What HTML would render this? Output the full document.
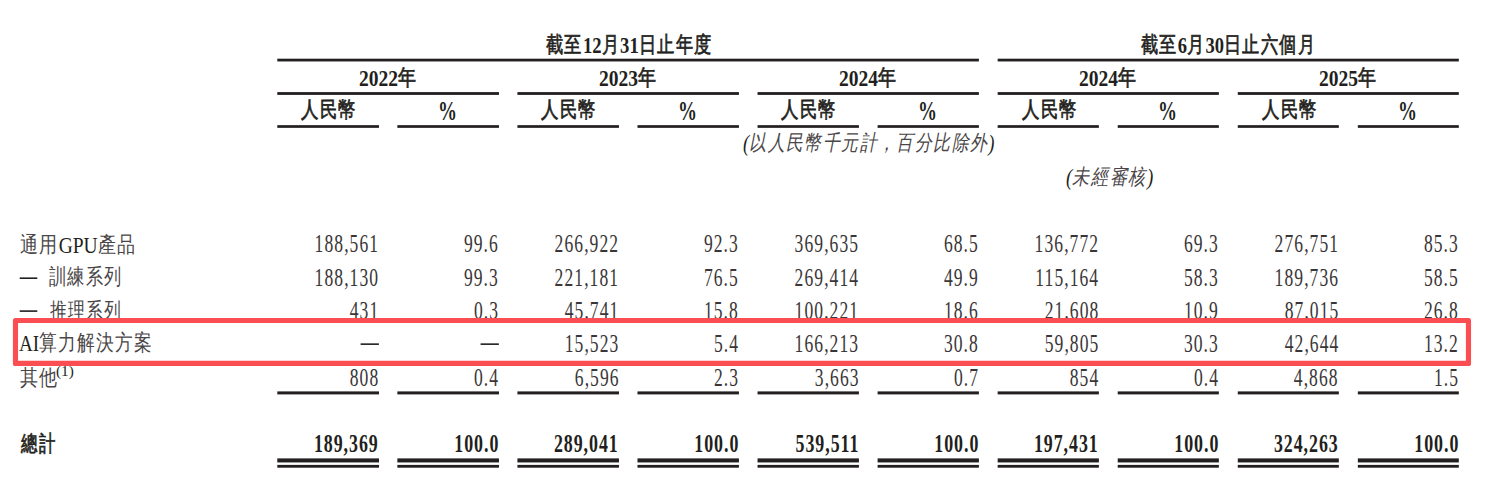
<!DOCTYPE html>
<html lang="zh-Hant"><head><meta charset="utf-8"><title>table</title>
<style>
html,body{margin:0;padding:0;background:#fff;}
body{width:1500px;height:502px;position:relative;overflow:hidden;font-family:"Liberation Serif",serif;color:#231f20;}
.t{position:absolute;white-space:nowrap;left:0;top:0;}
.c{color:#4a4647;letter-spacing:1.6px;}
svg{position:absolute;left:0;top:0;}
</style></head><body>
<svg width="1500" height="502" viewBox="0 0 1500 502"><rect x="277.30" y="58.70" width="701.60" height="2.75" fill="#231f20"/><rect x="997.66" y="58.70" width="461.16" height="2.75" fill="#231f20"/><rect x="277.30" y="92.10" width="221.68" height="2.80" fill="#231f20"/><rect x="517.42" y="92.10" width="221.52" height="2.80" fill="#231f20"/><rect x="757.54" y="92.10" width="221.36" height="2.80" fill="#231f20"/><rect x="997.66" y="92.10" width="221.20" height="2.80" fill="#231f20"/><rect x="1237.78" y="92.10" width="221.04" height="2.80" fill="#231f20"/><rect x="277.30" y="125.15" width="101.70" height="2.70" fill="#231f20"/><rect x="277.30" y="391.40" width="101.70" height="3.00" fill="#231f20"/><rect x="277.30" y="458.40" width="101.70" height="4.05" fill="#231f20"/><rect x="277.30" y="464.90" width="101.70" height="2.80" fill="#231f20"/><rect x="397.36" y="125.15" width="101.62" height="2.70" fill="#231f20"/><rect x="397.36" y="391.40" width="101.62" height="3.00" fill="#231f20"/><rect x="397.36" y="458.40" width="101.62" height="4.05" fill="#231f20"/><rect x="397.36" y="464.90" width="101.62" height="2.80" fill="#231f20"/><rect x="517.42" y="125.15" width="101.54" height="2.70" fill="#231f20"/><rect x="517.42" y="391.40" width="101.54" height="3.00" fill="#231f20"/><rect x="517.42" y="458.40" width="101.54" height="4.05" fill="#231f20"/><rect x="517.42" y="464.90" width="101.54" height="2.80" fill="#231f20"/><rect x="637.48" y="125.15" width="101.46" height="2.70" fill="#231f20"/><rect x="637.48" y="391.40" width="101.46" height="3.00" fill="#231f20"/><rect x="637.48" y="458.40" width="101.46" height="4.05" fill="#231f20"/><rect x="637.48" y="464.90" width="101.46" height="2.80" fill="#231f20"/><rect x="757.54" y="125.15" width="101.38" height="2.70" fill="#231f20"/><rect x="757.54" y="391.40" width="101.38" height="3.00" fill="#231f20"/><rect x="757.54" y="458.40" width="101.38" height="4.05" fill="#231f20"/><rect x="757.54" y="464.90" width="101.38" height="2.80" fill="#231f20"/><rect x="877.60" y="125.15" width="101.30" height="2.70" fill="#231f20"/><rect x="877.60" y="391.40" width="101.30" height="3.00" fill="#231f20"/><rect x="877.60" y="458.40" width="101.30" height="4.05" fill="#231f20"/><rect x="877.60" y="464.90" width="101.30" height="2.80" fill="#231f20"/><rect x="997.66" y="125.15" width="101.22" height="2.70" fill="#231f20"/><rect x="997.66" y="391.40" width="101.22" height="3.00" fill="#231f20"/><rect x="997.66" y="458.40" width="101.22" height="4.05" fill="#231f20"/><rect x="997.66" y="464.90" width="101.22" height="2.80" fill="#231f20"/><rect x="1117.72" y="125.15" width="101.14" height="2.70" fill="#231f20"/><rect x="1117.72" y="391.40" width="101.14" height="3.00" fill="#231f20"/><rect x="1117.72" y="458.40" width="101.14" height="4.05" fill="#231f20"/><rect x="1117.72" y="464.90" width="101.14" height="2.80" fill="#231f20"/><rect x="1237.78" y="125.15" width="101.06" height="2.70" fill="#231f20"/><rect x="1237.78" y="391.40" width="101.06" height="3.00" fill="#231f20"/><rect x="1237.78" y="458.40" width="101.06" height="4.05" fill="#231f20"/><rect x="1237.78" y="464.90" width="101.06" height="2.80" fill="#231f20"/><rect x="1357.84" y="125.15" width="100.98" height="2.70" fill="#231f20"/><rect x="1357.84" y="391.40" width="100.98" height="3.00" fill="#231f20"/><rect x="1357.84" y="458.40" width="100.98" height="4.05" fill="#231f20"/><rect x="1357.84" y="464.90" width="100.98" height="2.80" fill="#231f20"/><rect x="19.70" y="277.40" width="17.60" height="1.60" fill="#231f20"/><rect x="19.70" y="310.30" width="17.60" height="1.60" fill="#231f20"/><rect x="360.60" y="343.35" width="18.30" height="1.60" fill="#231f20"/><rect x="480.58" y="343.35" width="18.30" height="1.60" fill="#231f20"/></svg>
<div class="t" style="font-size:24.5px;line-height:24.5px;left:auto;right:1122.30px;top:231.68px;transform:scaleX(0.716);transform-origin:100% 0;letter-spacing:1.5px;margin-right:-1.5px;color:#3a3637;">188,561</div>
<div class="t" style="font-size:24.5px;line-height:24.5px;left:auto;right:1002.32px;top:231.68px;transform:scaleX(0.716);transform-origin:100% 0;letter-spacing:1.5px;margin-right:-1.5px;color:#3a3637;">99.6</div>
<div class="t" style="font-size:24.5px;line-height:24.5px;left:auto;right:882.34px;top:231.68px;transform:scaleX(0.716);transform-origin:100% 0;letter-spacing:1.5px;margin-right:-1.5px;color:#3a3637;">266,922</div>
<div class="t" style="font-size:24.5px;line-height:24.5px;left:auto;right:762.36px;top:231.68px;transform:scaleX(0.716);transform-origin:100% 0;letter-spacing:1.5px;margin-right:-1.5px;color:#3a3637;">92.3</div>
<div class="t" style="font-size:24.5px;line-height:24.5px;left:auto;right:642.38px;top:231.68px;transform:scaleX(0.716);transform-origin:100% 0;letter-spacing:1.5px;margin-right:-1.5px;color:#3a3637;">369,635</div>
<div class="t" style="font-size:24.5px;line-height:24.5px;left:auto;right:522.40px;top:231.68px;transform:scaleX(0.716);transform-origin:100% 0;letter-spacing:1.5px;margin-right:-1.5px;color:#3a3637;">68.5</div>
<div class="t" style="font-size:24.5px;line-height:24.5px;left:auto;right:402.42px;top:231.68px;transform:scaleX(0.716);transform-origin:100% 0;letter-spacing:1.5px;margin-right:-1.5px;color:#3a3637;">136,772</div>
<div class="t" style="font-size:24.5px;line-height:24.5px;left:auto;right:282.44px;top:231.68px;transform:scaleX(0.716);transform-origin:100% 0;letter-spacing:1.5px;margin-right:-1.5px;color:#3a3637;">69.3</div>
<div class="t" style="font-size:24.5px;line-height:24.5px;left:auto;right:162.46px;top:231.68px;transform:scaleX(0.716);transform-origin:100% 0;letter-spacing:1.5px;margin-right:-1.5px;color:#3a3637;">276,751</div>
<div class="t" style="font-size:24.5px;line-height:24.5px;left:auto;right:42.48px;top:231.68px;transform:scaleX(0.716);transform-origin:100% 0;letter-spacing:1.5px;margin-right:-1.5px;color:#3a3637;">85.3</div>
<div class="t" style="font-size:24.5px;line-height:24.5px;left:auto;right:1122.30px;top:265.68px;transform:scaleX(0.716);transform-origin:100% 0;letter-spacing:1.5px;margin-right:-1.5px;color:#3a3637;">188,130</div>
<div class="t" style="font-size:24.5px;line-height:24.5px;left:auto;right:1002.32px;top:265.68px;transform:scaleX(0.716);transform-origin:100% 0;letter-spacing:1.5px;margin-right:-1.5px;color:#3a3637;">99.3</div>
<div class="t" style="font-size:24.5px;line-height:24.5px;left:auto;right:882.34px;top:265.68px;transform:scaleX(0.716);transform-origin:100% 0;letter-spacing:1.5px;margin-right:-1.5px;color:#3a3637;">221,181</div>
<div class="t" style="font-size:24.5px;line-height:24.5px;left:auto;right:762.36px;top:265.68px;transform:scaleX(0.716);transform-origin:100% 0;letter-spacing:1.5px;margin-right:-1.5px;color:#3a3637;">76.5</div>
<div class="t" style="font-size:24.5px;line-height:24.5px;left:auto;right:642.38px;top:265.68px;transform:scaleX(0.716);transform-origin:100% 0;letter-spacing:1.5px;margin-right:-1.5px;color:#3a3637;">269,414</div>
<div class="t" style="font-size:24.5px;line-height:24.5px;left:auto;right:522.40px;top:265.68px;transform:scaleX(0.716);transform-origin:100% 0;letter-spacing:1.5px;margin-right:-1.5px;color:#3a3637;">49.9</div>
<div class="t" style="font-size:24.5px;line-height:24.5px;left:auto;right:402.42px;top:265.68px;transform:scaleX(0.716);transform-origin:100% 0;letter-spacing:1.5px;margin-right:-1.5px;color:#3a3637;">115,164</div>
<div class="t" style="font-size:24.5px;line-height:24.5px;left:auto;right:282.44px;top:265.68px;transform:scaleX(0.716);transform-origin:100% 0;letter-spacing:1.5px;margin-right:-1.5px;color:#3a3637;">58.3</div>
<div class="t" style="font-size:24.5px;line-height:24.5px;left:auto;right:162.46px;top:265.68px;transform:scaleX(0.716);transform-origin:100% 0;letter-spacing:1.5px;margin-right:-1.5px;color:#3a3637;">189,736</div>
<div class="t" style="font-size:24.5px;line-height:24.5px;left:auto;right:42.48px;top:265.68px;transform:scaleX(0.716);transform-origin:100% 0;letter-spacing:1.5px;margin-right:-1.5px;color:#3a3637;">58.5</div>
<div class="t" style="font-size:24.5px;line-height:24.5px;left:auto;right:1122.30px;top:298.68px;transform:scaleX(0.716);transform-origin:100% 0;letter-spacing:1.5px;margin-right:-1.5px;color:#3a3637;">431</div>
<div class="t" style="font-size:24.5px;line-height:24.5px;left:auto;right:1002.32px;top:298.68px;transform:scaleX(0.716);transform-origin:100% 0;letter-spacing:1.5px;margin-right:-1.5px;color:#3a3637;">0.3</div>
<div class="t" style="font-size:24.5px;line-height:24.5px;left:auto;right:882.34px;top:298.68px;transform:scaleX(0.716);transform-origin:100% 0;letter-spacing:1.5px;margin-right:-1.5px;color:#3a3637;">45,741</div>
<div class="t" style="font-size:24.5px;line-height:24.5px;left:auto;right:762.36px;top:298.68px;transform:scaleX(0.716);transform-origin:100% 0;letter-spacing:1.5px;margin-right:-1.5px;color:#3a3637;">15.8</div>
<div class="t" style="font-size:24.5px;line-height:24.5px;left:auto;right:642.38px;top:298.68px;transform:scaleX(0.716);transform-origin:100% 0;letter-spacing:1.5px;margin-right:-1.5px;color:#3a3637;">100,221</div>
<div class="t" style="font-size:24.5px;line-height:24.5px;left:auto;right:522.40px;top:298.68px;transform:scaleX(0.716);transform-origin:100% 0;letter-spacing:1.5px;margin-right:-1.5px;color:#3a3637;">18.6</div>
<div class="t" style="font-size:24.5px;line-height:24.5px;left:auto;right:402.42px;top:298.68px;transform:scaleX(0.716);transform-origin:100% 0;letter-spacing:1.5px;margin-right:-1.5px;color:#3a3637;">21,608</div>
<div class="t" style="font-size:24.5px;line-height:24.5px;left:auto;right:282.44px;top:298.68px;transform:scaleX(0.716);transform-origin:100% 0;letter-spacing:1.5px;margin-right:-1.5px;color:#3a3637;">10.9</div>
<div class="t" style="font-size:24.5px;line-height:24.5px;left:auto;right:162.46px;top:298.68px;transform:scaleX(0.716);transform-origin:100% 0;letter-spacing:1.5px;margin-right:-1.5px;color:#3a3637;">87,015</div>
<div class="t" style="font-size:24.5px;line-height:24.5px;left:auto;right:42.48px;top:298.68px;transform:scaleX(0.716);transform-origin:100% 0;letter-spacing:1.5px;margin-right:-1.5px;color:#3a3637;">26.8</div>
<div class="t" style="font-size:24.5px;line-height:24.5px;left:auto;right:882.34px;top:331.68px;transform:scaleX(0.716);transform-origin:100% 0;letter-spacing:1.5px;margin-right:-1.5px;color:#3a3637;">15,523</div>
<div class="t" style="font-size:24.5px;line-height:24.5px;left:auto;right:762.36px;top:331.68px;transform:scaleX(0.716);transform-origin:100% 0;letter-spacing:1.5px;margin-right:-1.5px;color:#3a3637;">5.4</div>
<div class="t" style="font-size:24.5px;line-height:24.5px;left:auto;right:642.38px;top:331.68px;transform:scaleX(0.716);transform-origin:100% 0;letter-spacing:1.5px;margin-right:-1.5px;color:#3a3637;">166,213</div>
<div class="t" style="font-size:24.5px;line-height:24.5px;left:auto;right:522.40px;top:331.68px;transform:scaleX(0.716);transform-origin:100% 0;letter-spacing:1.5px;margin-right:-1.5px;color:#3a3637;">30.8</div>
<div class="t" style="font-size:24.5px;line-height:24.5px;left:auto;right:402.42px;top:331.68px;transform:scaleX(0.716);transform-origin:100% 0;letter-spacing:1.5px;margin-right:-1.5px;color:#3a3637;">59,805</div>
<div class="t" style="font-size:24.5px;line-height:24.5px;left:auto;right:282.44px;top:331.68px;transform:scaleX(0.716);transform-origin:100% 0;letter-spacing:1.5px;margin-right:-1.5px;color:#3a3637;">30.3</div>
<div class="t" style="font-size:24.5px;line-height:24.5px;left:auto;right:162.46px;top:331.68px;transform:scaleX(0.716);transform-origin:100% 0;letter-spacing:1.5px;margin-right:-1.5px;color:#3a3637;">42,644</div>
<div class="t" style="font-size:24.5px;line-height:24.5px;left:auto;right:42.48px;top:331.68px;transform:scaleX(0.716);transform-origin:100% 0;letter-spacing:1.5px;margin-right:-1.5px;color:#3a3637;">13.2</div>
<div class="t" style="font-size:24.5px;line-height:24.5px;left:auto;right:1122.30px;top:365.68px;transform:scaleX(0.716);transform-origin:100% 0;letter-spacing:1.5px;margin-right:-1.5px;color:#3a3637;">808</div>
<div class="t" style="font-size:24.5px;line-height:24.5px;left:auto;right:1002.32px;top:365.68px;transform:scaleX(0.716);transform-origin:100% 0;letter-spacing:1.5px;margin-right:-1.5px;color:#3a3637;">0.4</div>
<div class="t" style="font-size:24.5px;line-height:24.5px;left:auto;right:882.34px;top:365.68px;transform:scaleX(0.716);transform-origin:100% 0;letter-spacing:1.5px;margin-right:-1.5px;color:#3a3637;">6,596</div>
<div class="t" style="font-size:24.5px;line-height:24.5px;left:auto;right:762.36px;top:365.68px;transform:scaleX(0.716);transform-origin:100% 0;letter-spacing:1.5px;margin-right:-1.5px;color:#3a3637;">2.3</div>
<div class="t" style="font-size:24.5px;line-height:24.5px;left:auto;right:642.38px;top:365.68px;transform:scaleX(0.716);transform-origin:100% 0;letter-spacing:1.5px;margin-right:-1.5px;color:#3a3637;">3,663</div>
<div class="t" style="font-size:24.5px;line-height:24.5px;left:auto;right:522.40px;top:365.68px;transform:scaleX(0.716);transform-origin:100% 0;letter-spacing:1.5px;margin-right:-1.5px;color:#3a3637;">0.7</div>
<div class="t" style="font-size:24.5px;line-height:24.5px;left:auto;right:402.42px;top:365.68px;transform:scaleX(0.716);transform-origin:100% 0;letter-spacing:1.5px;margin-right:-1.5px;color:#3a3637;">854</div>
<div class="t" style="font-size:24.5px;line-height:24.5px;left:auto;right:282.44px;top:365.68px;transform:scaleX(0.716);transform-origin:100% 0;letter-spacing:1.5px;margin-right:-1.5px;color:#3a3637;">0.4</div>
<div class="t" style="font-size:24.5px;line-height:24.5px;left:auto;right:162.46px;top:365.68px;transform:scaleX(0.716);transform-origin:100% 0;letter-spacing:1.5px;margin-right:-1.5px;color:#3a3637;">4,868</div>
<div class="t" style="font-size:24.5px;line-height:24.5px;left:auto;right:42.48px;top:365.68px;transform:scaleX(0.716);transform-origin:100% 0;letter-spacing:1.5px;margin-right:-1.5px;color:#3a3637;">1.5</div>
<div class="t" style="font-size:24.8px;line-height:24.8px;font-weight:bold;left:auto;right:1122.30px;top:432.43px;transform:scaleX(0.722);transform-origin:100% 0;letter-spacing:1.3px;margin-right:-1.3px;">189,369</div>
<div class="t" style="font-size:24.8px;line-height:24.8px;font-weight:bold;left:auto;right:1002.32px;top:432.43px;transform:scaleX(0.722);transform-origin:100% 0;letter-spacing:1.3px;margin-right:-1.3px;">100.0</div>
<div class="t" style="font-size:24.8px;line-height:24.8px;font-weight:bold;left:auto;right:882.34px;top:432.43px;transform:scaleX(0.722);transform-origin:100% 0;letter-spacing:1.3px;margin-right:-1.3px;">289,041</div>
<div class="t" style="font-size:24.8px;line-height:24.8px;font-weight:bold;left:auto;right:762.36px;top:432.43px;transform:scaleX(0.722);transform-origin:100% 0;letter-spacing:1.3px;margin-right:-1.3px;">100.0</div>
<div class="t" style="font-size:24.8px;line-height:24.8px;font-weight:bold;left:auto;right:642.38px;top:432.43px;transform:scaleX(0.722);transform-origin:100% 0;letter-spacing:1.3px;margin-right:-1.3px;">539,511</div>
<div class="t" style="font-size:24.8px;line-height:24.8px;font-weight:bold;left:auto;right:522.40px;top:432.43px;transform:scaleX(0.722);transform-origin:100% 0;letter-spacing:1.3px;margin-right:-1.3px;">100.0</div>
<div class="t" style="font-size:24.8px;line-height:24.8px;font-weight:bold;left:auto;right:402.42px;top:432.43px;transform:scaleX(0.722);transform-origin:100% 0;letter-spacing:1.3px;margin-right:-1.3px;">197,431</div>
<div class="t" style="font-size:24.8px;line-height:24.8px;font-weight:bold;left:auto;right:282.44px;top:432.43px;transform:scaleX(0.722);transform-origin:100% 0;letter-spacing:1.3px;margin-right:-1.3px;">100.0</div>
<div class="t" style="font-size:24.8px;line-height:24.8px;font-weight:bold;left:auto;right:162.46px;top:432.43px;transform:scaleX(0.722);transform-origin:100% 0;letter-spacing:1.3px;margin-right:-1.3px;">324,263</div>
<div class="t" style="font-size:24.8px;line-height:24.8px;font-weight:bold;left:auto;right:42.48px;top:432.43px;transform:scaleX(0.722);transform-origin:100% 0;letter-spacing:1.3px;margin-right:-1.3px;">100.0</div>
<div class="t" style="font-size:23.8px;line-height:23.8px;font-weight:bold;left:546.00px;top:34.10px;transform:scaleX(0.7833);transform-origin:0 0;"><span class="c" style="font-size:21.5px;position:relative;top:-1.0px;font-weight:normal;-webkit-text-stroke:0.7px #231f20;color:#231f20;">截至</span>12<span class="c" style="font-size:21.5px;position:relative;top:-1.0px;font-weight:normal;-webkit-text-stroke:0.7px #231f20;color:#231f20;">月</span>31<span class="c" style="font-size:21.5px;position:relative;top:-1.0px;font-weight:normal;-webkit-text-stroke:0.7px #231f20;color:#231f20;">日止年度</span></div>
<div class="t" style="font-size:23.8px;line-height:23.8px;font-weight:bold;left:1141.30px;top:34.00px;transform:scaleX(0.7795);transform-origin:0 0;"><span class="c" style="font-size:21.5px;position:relative;top:-1.0px;font-weight:normal;-webkit-text-stroke:0.7px #231f20;color:#231f20;">截至</span>6<span class="c" style="font-size:21.5px;position:relative;top:-1.0px;font-weight:normal;-webkit-text-stroke:0.7px #231f20;color:#231f20;">月</span>30<span class="c" style="font-size:21.5px;position:relative;top:-1.0px;font-weight:normal;-webkit-text-stroke:0.7px #231f20;color:#231f20;">日止六個月</span></div>
<div class="t" style="font-size:23.8px;line-height:23.8px;font-weight:bold;left:358.88px;top:66.60px;transform:scaleX(0.8206);transform-origin:0 0;">2022<span class="c" style="font-size:21.5px;position:relative;top:-1.0px;font-weight:normal;-webkit-text-stroke:0.7px #231f20;color:#231f20;">年</span></div>
<div class="t" style="font-size:23.8px;line-height:23.8px;font-weight:bold;left:301.20px;top:98.85px;transform:scaleX(0.7897);transform-origin:0 0;"><span class="c" style="font-size:21.5px;position:relative;top:-1.0px;font-weight:normal;-webkit-text-stroke:0.7px #231f20;color:#231f20;">人民幣</span></div>
<div class="t" style="font-size:27.5px;line-height:27.5px;font-weight:bold;left:1398.03px;top:96.85px;transform:scaleX(0.6909);transform-origin:0 0;">%</div>
<div class="t" style="font-size:23.8px;line-height:23.8px;font-style:italic;left:743.22px;top:132.40px;transform:scaleX(0.7794);transform-origin:0 0;">(<span class="c" style="font-size:21.5px;position:relative;top:-1.0px;">以人民幣千元計，百分比除外</span>)</div>
<div class="t" style="font-size:23.8px;line-height:23.8px;font-style:italic;left:1066.41px;top:165.70px;transform:scaleX(0.7926);transform-origin:0 0;">(<span class="c" style="font-size:21.5px;position:relative;top:-1.0px;">未經審核</span>)</div>
<div class="t" style="font-size:23.8px;line-height:23.8px;left:19.68px;top:233.50px;transform:scaleX(0.8190);transform-origin:0 0;"><span class="c" style="font-size:21.5px;position:relative;top:-1.0px;">通用</span>GPU<span class="c" style="font-size:21.5px;position:relative;top:-1.0px;">產品</span></div>
<div class="t" style="font-size:23.8px;line-height:23.8px;left:48.92px;top:266.40px;transform:scaleX(0.7811);transform-origin:0 0;"><span class="c" style="font-size:21.5px;position:relative;top:-1.0px;">訓練系列</span></div>
<div class="t" style="font-size:23.8px;line-height:23.8px;left:50.04px;top:300.00px;transform:scaleX(0.7644);transform-origin:0 0;"><span class="c" style="font-size:21.5px;position:relative;top:-1.0px;">推理系列</span></div>
<div class="t" style="font-size:23.8px;line-height:23.8px;left:19.20px;top:331.85px;transform:scaleX(0.8049);transform-origin:0 0;">AI<span class="c" style="font-size:21.5px;position:relative;top:-1.0px;">算力解決方案</span></div>
<div class="t" style="font-size:23.8px;line-height:23.8px;left:20.19px;top:366.50px;transform:scaleX(0.8136);transform-origin:0 0;"><span class="c" style="font-size:21.5px;position:relative;top:-1.0px;">其他</span></div>
<div class="t" style="font-size:23.8px;line-height:23.8px;left:56.41px;top:357.25px;transform:scaleX(1.0933);transform-origin:0 0;"><span style="font-size:14px">(1)</span></div>
<div class="t" style="font-size:23.8px;line-height:23.8px;font-weight:bold;left:21.00px;top:432.70px;transform:scaleX(0.7457);transform-origin:0 0;"><span class="c" style="font-size:21.5px;position:relative;top:-1.0px;font-weight:normal;-webkit-text-stroke:0.7px #231f20;color:#231f20;">總計</span></div>
<div class="t" style="font-size:23.8px;line-height:23.8px;font-weight:bold;left:599.00px;top:66.60px;transform:scaleX(0.8206);transform-origin:0 0;">2023<span class="c" style="font-size:21.5px;position:relative;top:-1.0px;font-weight:normal;-webkit-text-stroke:0.7px #231f20;color:#231f20;">年</span></div>
<div class="t" style="font-size:23.8px;line-height:23.8px;font-weight:bold;left:839.12px;top:66.60px;transform:scaleX(0.8206);transform-origin:0 0;">2024<span class="c" style="font-size:21.5px;position:relative;top:-1.0px;font-weight:normal;-webkit-text-stroke:0.7px #231f20;color:#231f20;">年</span></div>
<div class="t" style="font-size:23.8px;line-height:23.8px;font-weight:bold;left:1079.24px;top:66.60px;transform:scaleX(0.8206);transform-origin:0 0;">2024<span class="c" style="font-size:21.5px;position:relative;top:-1.0px;font-weight:normal;-webkit-text-stroke:0.7px #231f20;color:#231f20;">年</span></div>
<div class="t" style="font-size:23.8px;line-height:23.8px;font-weight:bold;left:1319.36px;top:66.60px;transform:scaleX(0.8206);transform-origin:0 0;">2025<span class="c" style="font-size:21.5px;position:relative;top:-1.0px;font-weight:normal;-webkit-text-stroke:0.7px #231f20;color:#231f20;">年</span></div>
<div class="t" style="font-size:23.8px;line-height:23.8px;font-weight:bold;left:541.32px;top:98.85px;transform:scaleX(0.7897);transform-origin:0 0;"><span class="c" style="font-size:21.5px;position:relative;top:-1.0px;font-weight:normal;-webkit-text-stroke:0.7px #231f20;color:#231f20;">人民幣</span></div>
<div class="t" style="font-size:23.8px;line-height:23.8px;font-weight:bold;left:781.44px;top:98.85px;transform:scaleX(0.7897);transform-origin:0 0;"><span class="c" style="font-size:21.5px;position:relative;top:-1.0px;font-weight:normal;-webkit-text-stroke:0.7px #231f20;color:#231f20;">人民幣</span></div>
<div class="t" style="font-size:23.8px;line-height:23.8px;font-weight:bold;left:1021.56px;top:98.85px;transform:scaleX(0.7897);transform-origin:0 0;"><span class="c" style="font-size:21.5px;position:relative;top:-1.0px;font-weight:normal;-webkit-text-stroke:0.7px #231f20;color:#231f20;">人民幣</span></div>
<div class="t" style="font-size:23.8px;line-height:23.8px;font-weight:bold;left:1261.68px;top:98.85px;transform:scaleX(0.7897);transform-origin:0 0;"><span class="c" style="font-size:21.5px;position:relative;top:-1.0px;font-weight:normal;-webkit-text-stroke:0.7px #231f20;color:#231f20;">人民幣</span></div>
<div class="t" style="font-size:27.5px;line-height:27.5px;font-weight:bold;left:437.55px;top:96.85px;transform:scaleX(0.6909);transform-origin:0 0;">%</div>
<div class="t" style="font-size:27.5px;line-height:27.5px;font-weight:bold;left:677.67px;top:96.85px;transform:scaleX(0.6909);transform-origin:0 0;">%</div>
<div class="t" style="font-size:27.5px;line-height:27.5px;font-weight:bold;left:917.79px;top:96.85px;transform:scaleX(0.6909);transform-origin:0 0;">%</div>
<div class="t" style="font-size:27.5px;line-height:27.5px;font-weight:bold;left:1157.91px;top:96.85px;transform:scaleX(0.6909);transform-origin:0 0;">%</div>
<svg width="1500" height="502" viewBox="0 0 1500 502"><rect x="15.48" y="320.52" width="1453.00" height="42.90" fill="none" stroke="#fa4e52" stroke-width="5.15" stroke-linejoin="round"/></svg>
</body></html>
